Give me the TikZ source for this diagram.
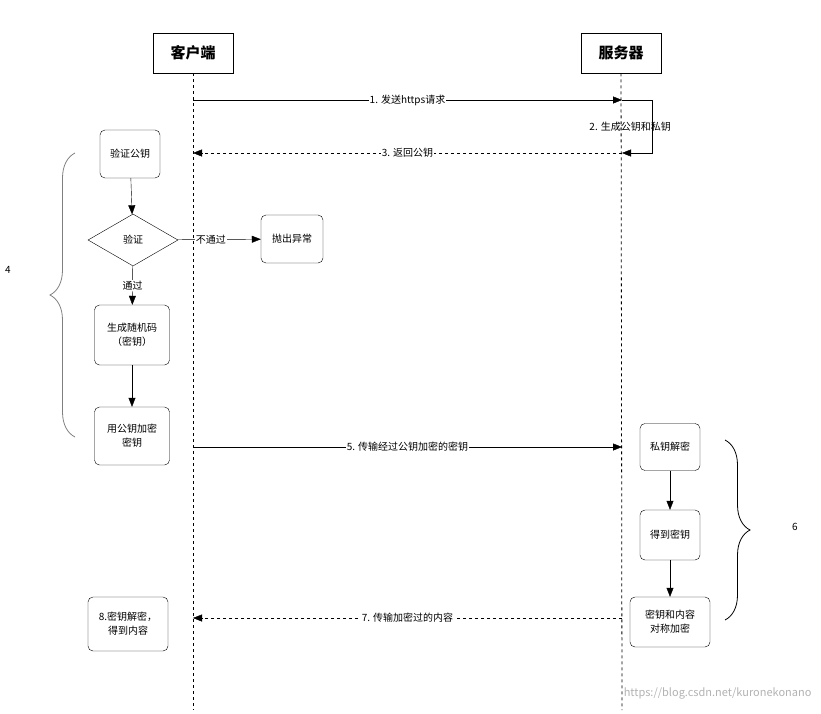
\documentclass[tikz,border=0pt]{standalone}
\usepackage{fontspec}
\setmainfont{Noto Sans CJK SC}
\usetikzlibrary{shapes.geometric,arrows.meta,decorations.pathreplacing}
\tikzset{
  actor/.style = {draw, thick, minimum width=80pt, minimum height=40pt, font=\bfseries\fontsize{15}{15}\selectfont},
  box/.style = {draw, rounded corners=5pt, align=center, font=\fontsize{10}{14}\selectfont},
  msg/.style = {font=\fontsize{10}{10}\selectfont, fill=white, inner sep=1pt},
  life/.style = {dashed, thick},
  call/.style = {-{Triangle[length=9pt,width=7pt]}},
  reply/.style = {dashed, -{Triangle[length=9pt,width=7pt]}},
  bracket/.style = {thick, decorate, decoration={brace, amplitude=25pt}}
}
\begin{document}
\begin{tikzpicture}[x=1pt,y=-1pt]
   \useasboundingbox (0,0) rectangle (821,713);
   \node[actor] (client) at (193,53) {客户端};
   \node[actor] (server) at (621,53) {服务器};
   \coordinate (cEnd) at (193,710);
   \coordinate (sEnd) at (622,710);
   \draw[life] (client) -- (cEnd);
   \draw[life] (server) -- (sEnd);
   \coordinate (c1) at (193,100); \coordinate (s1) at (622,100);
   \coordinate (c3) at (193,153); \coordinate (s3) at (622,153);
   \coordinate (c5) at (193,447); \coordinate (s5) at (622,447);
   \coordinate (c7) at (193,618); \coordinate (s7) at (622,618);
   \draw[call] (c1) -- node[msg] {1. 发送https请求} (s1);
   \draw[call] (s1) -- ++(30,0) |- (s3);
   \node[msg, fill=none, anchor=east] (gen) at (672,127) {2. 生成公钥和私钥};
   \draw[reply] (s3) -- node[msg] {3. 返回公钥} (c3);
   \node[box, minimum width=60pt, minimum height=48pt] (verifykey) at (130,154) {验证公钥};
   \node[draw, diamond, aspect=1.75, minimum width=90pt, minimum height=52pt, inner sep=0pt, font=\fontsize{10}{10}\selectfont] (check) at (133,240) {验证};
   \node[box, minimum width=62pt, minimum height=48pt] (error) at (292,239) {抛出异常};
   \node[box, minimum width=75pt, minimum height=60pt] (random) at (132,335) {生成随机码\\（密钥）};
   \node[box, minimum width=75pt, minimum height=58pt] (encrypt) at (132,436) {用公钥加密\\密钥};
   \draw[call] (verifykey) -- (check);
   \draw[call] (check) -- node[msg, pos=0.4] {不通过} (error);
   \draw[call] (check) -- node[msg] {通过} (random);
   \draw[call] (random) -- (encrypt);
   \draw[call] (c5) -- node[msg] {5. 传输经过公钥加密的密钥} (s5);
   \node[box, minimum width=60pt, minimum height=47pt] (decrypt) at (670,447) {私钥解密};
   \node[box, minimum width=60pt, minimum height=50pt] (getkey) at (670,535) {得到密钥};
   \node[box, minimum width=80pt, minimum height=50pt] (sym) at (670,622) {密钥和内容\\对称加密};
   \draw[call] (decrypt) -- (getkey);
   \draw[call] (getkey) -- (sym);
   \draw[reply] (s7) -- node[msg] {7. 传输加密过的内容} (c7);
   \node[box, minimum width=80pt, minimum height=54pt] (result) at (128,624) {8.密钥解密，\\得到内容};
   \coordinate (b4top) at (75,153); \coordinate (b4bot) at (75,437);
   \draw[bracket, gray] (b4bot) -- (b4top);
   \node[font=\fontsize{10}{10}\selectfont] (n4) at (8,270) {4};
   \coordinate (b6top) at (725,440); \coordinate (b6bot) at (725,620);
   \draw[bracket] (b6top) -- (b6bot);
   \node[font=\fontsize{10}{10}\selectfont] (n6) at (795,527) {6};
   \node[text=gray!60, font=\fontsize{11}{11}\selectfont, anchor=east] (mark) at (815,693) {https://blog.csdn.net/kuronekonano};
\end{tikzpicture}
\end{document}
